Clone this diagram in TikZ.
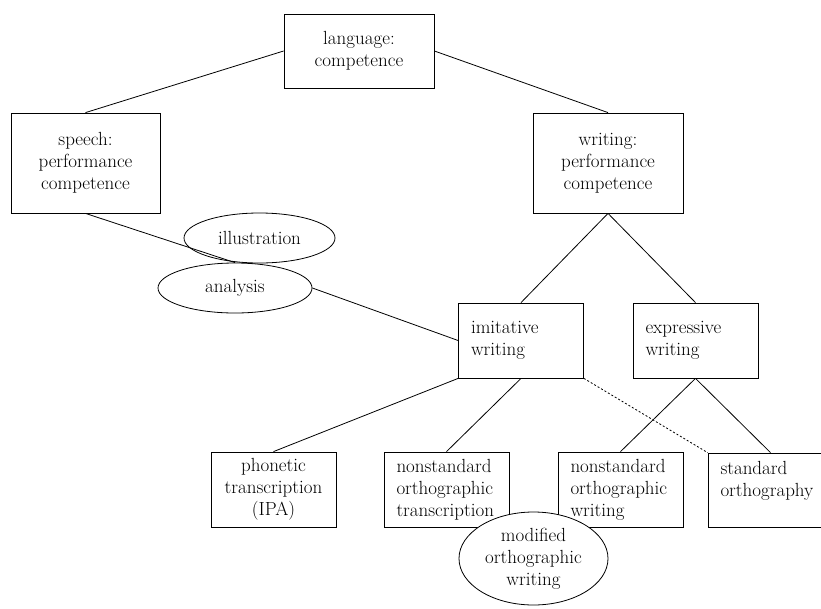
\documentclass[tikz,border=0pt]{standalone}
\usepackage{fontspec}
\usetikzlibrary{shapes.geometric}
\tikzset{
  every node/.style={font=\rmfamily\fontsize{19}{22}\selectfont, text=black},
  cbox/.style={draw, line width=0.8pt, align=center, inner sep=0pt},
  lbox/.style={draw, line width=0.8pt, align=left, inner ysep=0pt, inner xsep=12.5pt, text width=100pt, minimum width=125pt, minimum height=75pt},
  oval/.style={draw, ellipse, line width=0.8pt, inner sep=0pt, align=center},
  link/.style={line width=0.8pt},
}
\begin{document}
\begin{tikzpicture}[x=1pt,y=-1pt]
\useasboundingbox (0,0) rectangle (821,608);
\clip (0,0) rectangle (821,608);
\fill[white] (0,0) rectangle (821,608);
\node[cbox, minimum width=150pt, minimum height=74pt] (language) at (359,51) {language:\\competence};
\node[cbox, minimum width=149pt, minimum height=100pt] (speech) at (85.5,163) {speech:\\performance\\competence};
\node[cbox, minimum width=150pt, minimum height=100pt] (writing) at (608,163) {writing:\\performance\\competence};
\node[oval, minimum width=151pt, minimum height=50pt] (illustration) at (259.5,238) {illustration};
\node[oval, minimum width=154pt, minimum height=50pt] (analysis) at (235,288) {analysis};
\node[lbox] (imitative) at (521,340.5) {imitative\\writing};
\node[lbox] (expressive) at (695.5,340.5) {expressive\\writing};
\node[cbox, minimum width=125pt, minimum height=75pt] (phonetic) at (273.5,489.5) {phonetic\\transcription\\(IPA)};
\node[lbox] (nstrans) at (446.5,489.5) {nonstandard\\orthographic\\transcription};
\node[lbox] (nswrit) at (620.5,489.5) {nonstandard\\orthographic\\writing};
\node[lbox, minimum height=74pt] (standard) at (770.5,490) {standard\\orthography\\~};

\draw[link] (language.west) -- (speech.north);
\draw[link] (language.east) -- (writing.north);
\draw[link] (speech.south) -- (analysis.north);
\draw[link] (analysis.east) -- (imitative.west);
\draw[link] (writing.south) -- (imitative.north);
\draw[link] (writing.south) -- (expressive.north);
\draw[link] (imitative.south west) -- (phonetic.north);
\draw[link] (imitative.south) -- (nstrans.north);
\draw[link, dash pattern=on 2pt off 2pt] (imitative.south east) -- (standard.north west);
\draw[link] (expressive.south) -- (nswrit.north);
\draw[link] (expressive.south) -- (standard.north);

\node[oval, fill=white, minimum width=149pt, minimum height=93pt] (modified) at (533.5,558.5) {modified\\orthographic\\writing};
\end{tikzpicture}
\end{document}
